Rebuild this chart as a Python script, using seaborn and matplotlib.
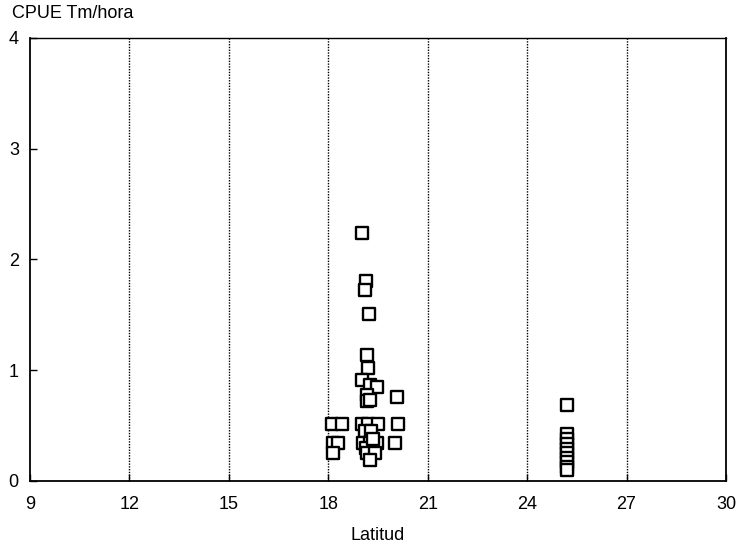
import matplotlib
matplotlib.use("Agg")
import matplotlib.pyplot as plt
import seaborn as sns
import pandas as pd

# Catch rate per haul by latitude
latitud = [19.02, 19.14, 19.12, 19.23, 19.16, 19.20, 19.01, 19.26, 19.46,
           19.16, 19.16, 19.26, 20.07,
           18.10, 18.41, 19.01, 19.20, 19.50, 20.10, 19.10, 19.30,
           18.14, 18.30, 19.05, 19.26, 19.46, 20.00, 19.15, 19.35,
           18.14, 19.16, 19.40, 19.26,
           25.19, 25.19, 25.19, 25.19, 25.19, 25.19, 25.19, 25.19, 25.19, 25.19]
cpue = [2.24, 1.81, 1.72, 1.51, 1.14, 1.02, 0.91, 0.87, 0.85,
        0.78, 0.72, 0.73, 0.76,
        0.51, 0.51, 0.51, 0.51, 0.51, 0.51, 0.45, 0.45,
        0.34, 0.34, 0.34, 0.34, 0.34, 0.34, 0.30, 0.38,
        0.25, 0.25, 0.25, 0.19,
        0.69, 0.42, 0.38, 0.33, 0.29, 0.25, 0.21, 0.17, 0.13, 0.10]

x_ticks = [9, 12, 15, 18, 21, 24, 27, 30]
y_ticks = [0, 1, 2, 3, 4]

df = pd.DataFrame({"Latitud": latitud, "CPUE": cpue})

sns.set_theme(style="white")
plt.rcParams["font.family"] = ["Liberation Sans", "DejaVu Sans"]

fig = plt.figure(figsize=(7.53, 5.49), dpi=100)
ax = fig.add_axes([0.0398, 0.1239, 0.9243, 0.8069])

for xv in x_ticks[1:-1]:
    ax.axvline(xv, color="black", lw=1.0, ls=(0, (1, 1)), zorder=1)

sns.scatterplot(data=df, x="Latitud", y="CPUE", ax=ax, marker="s", s=70,
                facecolor="white", edgecolor="black", linewidth=1.7, zorder=3)

ax.set_xlim(9, 30)
ax.set_ylim(0, 4)
ax.set_xticks(x_ticks)
ax.set_yticks(y_ticks)
ax.set_xticklabels([str(v) for v in x_ticks])
ax.set_yticklabels([str(v) for v in y_ticks])
ax.tick_params(axis="both", which="both", direction="in", length=5, width=1,
               colors="black", labelsize=13, left=True, bottom=True)
ax.tick_params(axis="x", pad=11)
ax.tick_params(axis="y", pad=8)

for side in ["left", "bottom", "right"]:
    ax.spines[side].set_color("black")
    ax.spines[side].set_linewidth(1.3)
ax.spines["top"].set_color("black")
ax.spines["top"].set_linewidth(1.0)
ax.spines["top"].set_linestyle((0, (4, 1)))

ax.set_xlabel("Latitud", fontsize=13, color="black", labelpad=10)
ax.set_ylabel("")
fig.text(0.016, 0.975, "CPUE Tm/hora", fontsize=13, color="black",
         ha="left", va="center")

fig.savefig("out.png", dpi=100, facecolor="white")
